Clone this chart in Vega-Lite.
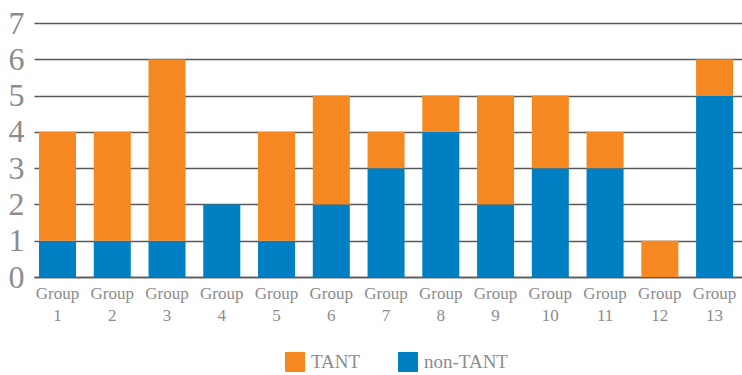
{
  "$schema": "https://vega.github.io/schema/vega-lite/v6.json",
  "autosize": "none",
  "width": 708,
  "height": 254,
  "padding": {"left": 34, "top": 23, "right": 0, "bottom": 98},
  "background": "white",
  "data": {
    "values": [
      {"group": "Group 1", "series": "non-TANT", "value": 1},
      {"group": "Group 1", "series": "TANT", "value": 3},
      {"group": "Group 2", "series": "non-TANT", "value": 1},
      {"group": "Group 2", "series": "TANT", "value": 3},
      {"group": "Group 3", "series": "non-TANT", "value": 1},
      {"group": "Group 3", "series": "TANT", "value": 5},
      {"group": "Group 4", "series": "non-TANT", "value": 2},
      {"group": "Group 4", "series": "TANT", "value": 0},
      {"group": "Group 5", "series": "non-TANT", "value": 1},
      {"group": "Group 5", "series": "TANT", "value": 3},
      {"group": "Group 6", "series": "non-TANT", "value": 2},
      {"group": "Group 6", "series": "TANT", "value": 3},
      {"group": "Group 7", "series": "non-TANT", "value": 3},
      {"group": "Group 7", "series": "TANT", "value": 1},
      {"group": "Group 8", "series": "non-TANT", "value": 4},
      {"group": "Group 8", "series": "TANT", "value": 1},
      {"group": "Group 9", "series": "non-TANT", "value": 2},
      {"group": "Group 9", "series": "TANT", "value": 3},
      {"group": "Group 10", "series": "non-TANT", "value": 3},
      {"group": "Group 10", "series": "TANT", "value": 2},
      {"group": "Group 11", "series": "non-TANT", "value": 3},
      {"group": "Group 11", "series": "TANT", "value": 1},
      {"group": "Group 12", "series": "non-TANT", "value": 0},
      {"group": "Group 12", "series": "TANT", "value": 1},
      {"group": "Group 13", "series": "non-TANT", "value": 5},
      {"group": "Group 13", "series": "TANT", "value": 1}
    ]
  },
  "config": {
    "view": {"stroke": null},
    "font": "Liberation Serif"
  },
  "mark": {"type": "bar"},
  "encoding": {
    "x": {
      "field": "group",
      "type": "nominal",
      "sort": null,
      "scale": {"paddingInner": 0.324, "paddingOuter": 0.127, "align": 0.36},
      "axis": {
        "title": null,
        "labelAngle": 0,
        "labelExpr": "split(datum.label, ' ')",
        "labelFont": "Liberation Serif",
        "labelFontSize": 17,
        "labelColor": "#8c8c8c",
        "labelLineHeight": 22,
        "labelPadding": 8,
        "ticks": false,
        "domainColor": "#595959",
        "domainWidth": 1.5
      }
    },
    "y": {
      "field": "value",
      "type": "quantitative",
      "stack": "zero",
      "scale": {"domain": [0, 7], "nice": false},
      "axis": {
        "title": null,
        "values": [0, 1, 2, 3, 4, 5, 6, 7],
        "labelFont": "Liberation Serif",
        "labelFontSize": 32,
        "labelColor": "#8c8c8c",
        "labelPadding": 10,
        "ticks": false,
        "domain": false,
        "gridColor": "#595959",
        "gridWidth": 1.5,
        "gridOpacity": 1
      }
    },
    "color": {
      "field": "series",
      "type": "nominal",
      "scale": {"domain": ["TANT", "non-TANT"], "range": ["#F58820", "#0080C3"]},
      "legend": {
        "title": null,
        "orient": "none",
        "legendX": 251,
        "legendY": 329,
        "padding": 0,
        "direction": "horizontal",
        "symbolType": "square",
        "symbolSize": 400,
        "symbolStrokeWidth": 0,
        "symbolOffset": 0,
        "labelOffset": 6,
        "labelFont": "Liberation Serif",
        "labelFontSize": 19,
        "labelColor": "#8c8c8c",
        "columnPadding": 37
      }
    },
    "order": {"field": "series", "sort": "descending"}
  }
}
